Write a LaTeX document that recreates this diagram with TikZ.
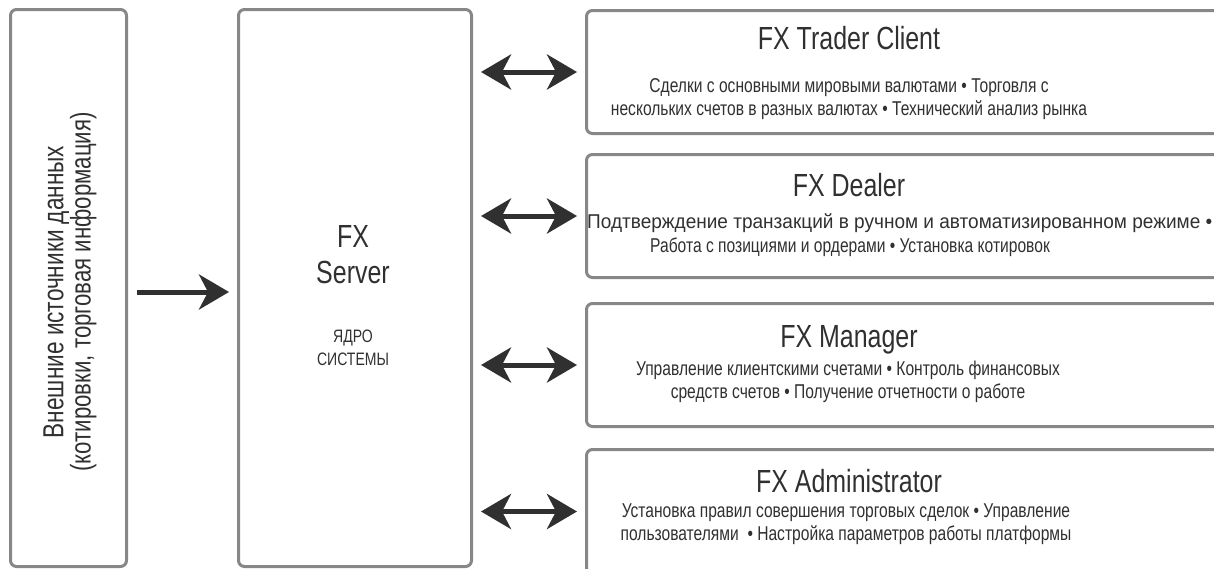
\documentclass[tikz,border=0pt]{standalone}
\usepackage{fontspec}
\setmainfont[FakeStretch=0.78]{Liberation Sans}
\usetikzlibrary{arrows.meta}
\usetikzlibrary{positioning}
\definecolor{frame}{RGB}{135,135,135}
\definecolor{ink}{RGB}{48,48,48}

\begin{document}
\begin{tikzpicture}[x=1pt, y=-1pt,
		box/.style = {draw=frame, line width=3pt, rounded corners=6pt,
			inner sep=0pt, anchor=north west},
		client/.style = {box, minimum width=660pt, minimum height=123pt},
		title/.style = {font=\fontsize{32}{36}\selectfont, text=ink,
			anchor=base, align=center, inner sep=0pt},
		desc/.style = {font=\fontsize{20}{23}\selectfont, text=ink,
			anchor=base, align=center, inner sep=0pt},
		tip/.tip = {Stealth[length=30pt, width=35pt, inset=9pt]},
		link/.style = {draw=ink, line width=5pt, -tip},
		both/.style = {link, tip-tip, shorten <=8pt, shorten >=8pt}]
		
		\useasboundingbox (0,0) rectangle (1214,568);
		
		% Data sources
		\node[box, minimum width=116pt, minimum height=557pt] (src) at (9,8) {};
		\node[rotate=90, align=center, text=ink] (srctext) at (70,292)
			{{\fontsize{29}{35}\selectfont Внешние источники данных}\\
			 {\fontsize{28.5}{35}\selectfont (котировки, торговая информация)}};
		
		% Server (base anchor sits on the last line)
		\node[box, minimum width=233pt, minimum height=557pt] (server) at (237,8) {};
		\node[title] (fx) at (353,283) {FX\\[0pt]Server};
		\node[desc, font=\fontsize{18}{23}\selectfont] (core) at (353,365) {ЯДРО\\СИСТЕМЫ};
		
		% Trader Client
		\node[client] (trader) at (585,9) {};
		\node[title] (tradertitle) at (849,49) {FX Trader Client};
		\node[desc] (traderdesc) at (849,115)
			{Сделки с основными мировыми валютами • Торговля с\\
			 нескольких счетов в разных валютах • Технический анализ рынка};
		
		% Dealer
		\node[client] (dealer) at (585,153) {};
		\node[title] (dealertitle) at (849,196) {FX Dealer};
		\node[desc, anchor=base west] (dealerdesc) at (587,228)
			{\scalebox{1.22}[1]{Подтверждение транзакций в ручном и автоматизированном режиме •}};
		\node[desc] (dealerdescb) at (850,252)
			{Работа с позициями и ордерами • Установка котировок};
		
		% Manager
		\node[client] (manager) at (585,302) {};
		\node[title] (managertitle) at (849,347) {FX Manager};
		\node[desc] (managerdesc) at (848,398)
			{Управление клиентскими счетами • Контроль финансовых\\
			 средств счетов • Получение отчетности о работе};
		
		% Administrator
		\node[client, minimum height=124pt] (admin) at (585,448) {};
		\node[title] (admintitle) at (849,492) {FX Administrator};
		\node[desc] (admindesc) at (846,540)
			{Установка правил совершения торговых сделок • Управление\\
			 пользователями \ • Настройка параметров работы платформы};
		
		% Arrows
		\draw[link, shorten <=9pt, shorten >=8pt]
			([yshift=-4pt]src.east) -- ([yshift=-4pt]src.east -| server.west);
		\foreach \c in {trader, dealer, manager, admin}
			\draw[both] (server.east |- \c.west) -- (\c.west);
	\end{tikzpicture}
\end{document}
